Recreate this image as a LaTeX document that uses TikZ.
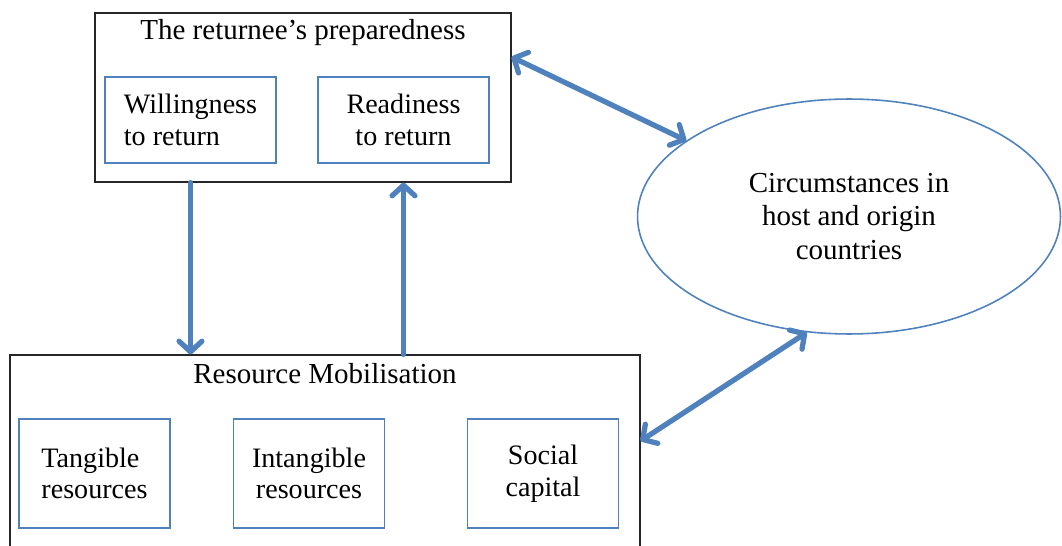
\documentclass[tikz,border=0pt]{standalone}
\usepackage{fontspec}
\setmainfont{Liberation Serif}
\usetikzlibrary{shapes,arrows.meta,calc}
\definecolor{linkblue}{RGB}{79,129,189}

\tikzset{
	outerbox/.style={draw=black!85, line width=0.7pt, inner sep=0pt},
	innerbox/.style={draw=linkblue, line width=0.9pt, inner sep=0pt, align=center, font=\fontsize{16}{18}\selectfont},
	headline/.style={anchor=base, font=\fontsize{16.5}{18}\selectfont},
	link/.style={draw=linkblue, line width=3pt, line cap=round, >={Straight Barb[length=6pt,width=13pt,line cap=round,line join=round]}}
}

\begin{document}
\begin{tikzpicture}[x=0.02cm,y=0.02cm]
				\useasboundingbox (0,0) rectangle (1062,545);

				\node[outerbox, minimum width=8.32cm, minimum height=3.38cm] (prep) at (303,447.5) {};
				\node[headline] (prepTitle) at (303,505.7) {The returnee's preparedness};
				\node[innerbox, align=left, minimum width=3.42cm, minimum height=1.72cm] (will) at (190.5,425) {Willingness\\to return};
				\node[innerbox, minimum width=3.42cm, minimum height=1.72cm] (ready) at (403.5,425) {Readiness\\to return};

				\node[outerbox, minimum width=12.6cm, minimum height=4.1cm] (mob) at (325,87.5) {};
				\node[headline] (mobTitle) at (325,162) {Resource Mobilisation};
				\node[innerbox, align=left, minimum width=3.02cm, minimum height=2.18cm] (tang) at (94.5,71.5) {Tangible\\resources};
				\node[innerbox, minimum width=3.02cm, minimum height=2.18cm] (intang) at (309,71.5) {Intangible\\resources};
				\node[innerbox, minimum width=3.02cm, minimum height=2.18cm] (social) at (543,71.5) {Social\\capital};

				\node[ellipse, draw=linkblue, line width=0.9pt, inner sep=0pt, align=center,
					minimum width=8.46cm, minimum height=4.7cm,
					font=\fontsize{16.5}{19}\selectfont] (circ) at (849,328.5) {Circumstances in\\host and origin\\countries};

				\draw[link,->] (prep.south -| will.south) -- (mob.north -| will.south);
				\draw[link,->] (mob.north -| ready.south) -- (prep.south -| ready.south);
				\draw[link,<->] (prep.11.5) -- (circ.155.8);
				\draw[link,<->] (mob.3.7) -- (circ.250.6);
\end{tikzpicture}
\end{document}
